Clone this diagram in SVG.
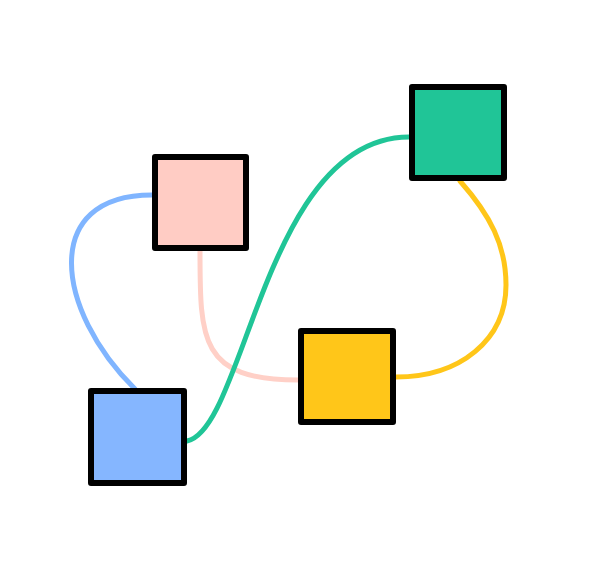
<svg xmlns="http://www.w3.org/2000/svg" width="600" height="568" viewBox="0 0 600 568">
<style>
.edge{fill:none;stroke-width:5;stroke-linecap:round}
.node{stroke:#000;stroke-width:6;stroke-linejoin:round}
</style>
<rect width="600" height="568" fill="#fff"/>
<g id="connectors">
<path class="edge" stroke="#80B5FF" d="M152,195 C40,195 55,310 135,389"/>
<path class="edge" stroke="#FFD0C7" d="M200,251 C200,340 200,380 298,380"/>
<path class="edge" stroke="#20C597" d="M187,441 C245,430 265,137 409,137"/>
<path class="edge" stroke="#FFC619" d="M460,181 C490,215 506,245 506,285 C506,340 460,377 396,377"/>
</g>
<g id="node-pink"><rect class="node" x="155" y="157" width="91" height="91" fill="#FFCCC4"/></g>
<g id="node-green"><rect class="node" x="412" y="87" width="92" height="91" fill="#20C597"/></g>
<g id="node-yellow"><rect class="node" x="301" y="331" width="92" height="91" fill="#FFC619"/></g>
<g id="node-blue"><rect class="node" x="91" y="391" width="93" height="92" fill="#85B6FF"/></g>
</svg>
